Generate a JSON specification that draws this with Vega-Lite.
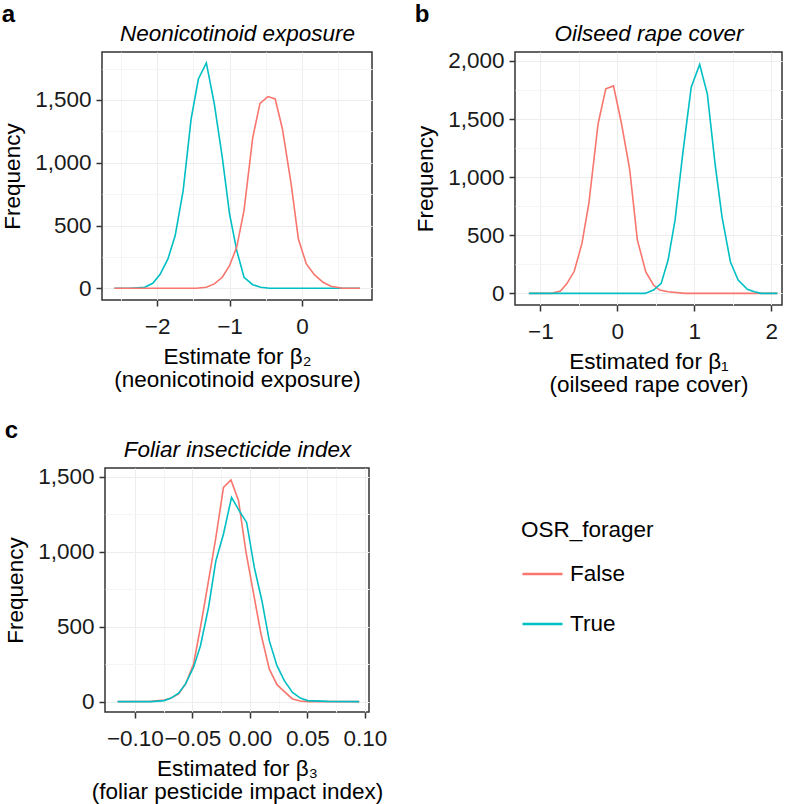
{
  "$schema": "https://vega.github.io/schema/vega-lite/v6.json",
  "background": "white",
  "padding": {"left": 0, "top": 2, "right": 0, "bottom": 0},
  "config": {
    "font": "Liberation Sans",
    "view": {"stroke": "#333333", "strokeWidth": 1.5},
    "axis": {
      "labelFont": "Liberation Sans", "labelFontSize": 22.5, "labelColor": "#1a1a1a",
      "titleFont": "Liberation Sans", "titleFontSize": 22.5, "titleFontWeight": "normal", "titleColor": "#000000",
      "tickColor": "#333333", "tickWidth": 1.5, "tickSize": 6, "domain": false,
      "gridColor": "#ededed", "gridWidth": 1, "labelOverlap": false, "labelFlush": false
    },
    "axisBottom": {"labelPadding": 9, "titlePadding": 8, "titleLineHeight": 23},
    "axisLeft": {"labelPadding": 5, "titlePadding": 10},
    "legend": {
      "symbolType": "stroke", "symbolSize": 1600, "symbolStrokeWidth": 2.5,
      "titleFontSize": 22.5, "titleFontWeight": "normal", "titleColor": "#000000",
      "labelFontSize": 22.5, "labelColor": "#000000", "titlePadding": 11, "rowPadding": 17,
      "labelOffset": 6, "padding": 0
    },
    "title": {"font": "Liberation Sans", "fontSize": 24, "fontWeight": "bold", "color": "#000000", "anchor": "start", "frame": "bounds", "offset": -5}
  },
  "datasets": {
    "a": [
      {"est": -2.59, "freq": 0, "forager": "True"}, {"est": -2.38, "freq": 0, "forager": "True"}, {"est": -2.17, "freq": 8, "forager": "True"},
      {"est": -2.06, "freq": 40, "forager": "True"}, {"est": -1.96, "freq": 109, "forager": "True"}, {"est": -1.85, "freq": 234, "forager": "True"},
      {"est": -1.75, "freq": 420, "forager": "True"}, {"est": -1.64, "freq": 778, "forager": "True"}, {"est": -1.53, "freq": 1349, "forager": "True"},
      {"est": -1.43, "freq": 1667, "forager": "True"}, {"est": -1.32, "freq": 1795, "forager": "True"}, {"est": -1.21, "freq": 1468, "forager": "True"},
      {"est": -1.10, "freq": 1043, "forager": "True"}, {"est": -1.00, "freq": 592, "forager": "True"}, {"est": -0.90, "freq": 300, "forager": "True"},
      {"est": -0.80, "freq": 88, "forager": "True"}, {"est": -0.68, "freq": 29, "forager": "True"}, {"est": -0.57, "freq": 8, "forager": "True"},
      {"est": -0.45, "freq": 0, "forager": "True"}, {"est": 0.80, "freq": 0, "forager": "True"},
      {"est": -2.59, "freq": 0, "forager": "False"}, {"est": -1.46, "freq": 0, "forager": "False"}, {"est": -1.32, "freq": 8, "forager": "False"},
      {"est": -1.21, "freq": 35, "forager": "False"}, {"est": -1.10, "freq": 88, "forager": "False"}, {"est": -1.00, "freq": 180, "forager": "False"},
      {"est": -0.90, "freq": 330, "forager": "False"}, {"est": -0.80, "freq": 620, "forager": "False"}, {"est": -0.68, "freq": 1200, "forager": "False"},
      {"est": -0.58, "freq": 1473, "forager": "False"}, {"est": -0.47, "freq": 1527, "forager": "False"}, {"est": -0.37, "freq": 1508, "forager": "False"},
      {"est": -0.27, "freq": 1269, "forager": "False"}, {"est": -0.15, "freq": 831, "forager": "False"}, {"est": -0.05, "freq": 393, "forager": "False"},
      {"est": 0.06, "freq": 194, "forager": "False"}, {"est": 0.17, "freq": 109, "forager": "False"}, {"est": 0.29, "freq": 48, "forager": "False"},
      {"est": 0.40, "freq": 16, "forager": "False"}, {"est": 0.56, "freq": 0, "forager": "False"}, {"est": 0.80, "freq": 0, "forager": "False"}
    ],
    "b": [
      {"est": -1.15, "freq": 0, "forager": "False"}, {"est": -0.85, "freq": 0, "forager": "False"}, {"est": -0.74, "freq": 20, "forager": "False"},
      {"est": -0.66, "freq": 80, "forager": "False"}, {"est": -0.56, "freq": 190, "forager": "False"}, {"est": -0.46, "freq": 430, "forager": "False"},
      {"est": -0.37, "freq": 775, "forager": "False"}, {"est": -0.25, "freq": 1460, "forager": "False"}, {"est": -0.15, "freq": 1760, "forager": "False"},
      {"est": -0.05, "freq": 1785, "forager": "False"}, {"est": 0.05, "freq": 1475, "forager": "False"}, {"est": 0.16, "freq": 1070, "forager": "False"},
      {"est": 0.26, "freq": 460, "forager": "False"}, {"est": 0.37, "freq": 185, "forager": "False"}, {"est": 0.47, "freq": 72, "forager": "False"},
      {"est": 0.55, "freq": 29, "forager": "False"}, {"est": 0.66, "freq": 14, "forager": "False"}, {"est": 0.88, "freq": 0, "forager": "False"},
      {"est": 2.08, "freq": 0, "forager": "False"},
      {"est": -1.15, "freq": 0, "forager": "True"}, {"est": 0.36, "freq": 0, "forager": "True"}, {"est": 0.47, "freq": 29, "forager": "True"},
      {"est": 0.57, "freq": 86, "forager": "True"}, {"est": 0.66, "freq": 287, "forager": "True"}, {"est": 0.75, "freq": 630, "forager": "True"},
      {"est": 0.85, "freq": 1200, "forager": "True"}, {"est": 0.96, "freq": 1775, "forager": "True"}, {"est": 1.07, "freq": 1970, "forager": "True"},
      {"est": 1.17, "freq": 1715, "forager": "True"}, {"est": 1.27, "freq": 1115, "forager": "True"}, {"est": 1.36, "freq": 660, "forager": "True"},
      {"est": 1.47, "freq": 270, "forager": "True"}, {"est": 1.57, "freq": 115, "forager": "True"}, {"est": 1.69, "freq": 35, "forager": "True"},
      {"est": 1.78, "freq": 14, "forager": "True"}, {"est": 1.87, "freq": 0, "forager": "True"}, {"est": 2.08, "freq": 0, "forager": "True"}
    ],
    "c": [
      {"est": -0.115, "freq": 0, "forager": "False"}, {"est": -0.086, "freq": 2, "forager": "False"}, {"est": -0.0745, "freq": 11, "forager": "False"},
      {"est": -0.069, "freq": 22, "forager": "False"}, {"est": -0.062, "freq": 51, "forager": "False"}, {"est": -0.056, "freq": 118, "forager": "False"},
      {"est": -0.049, "freq": 251, "forager": "False"}, {"est": -0.043, "freq": 496, "forager": "False"}, {"est": -0.037, "freq": 762, "forager": "False"},
      {"est": -0.0296, "freq": 1095, "forager": "False"}, {"est": -0.023, "freq": 1429, "forager": "False"}, {"est": -0.0165, "freq": 1478, "forager": "False"},
      {"est": -0.0099, "freq": 1340, "forager": "False"}, {"est": -0.0035, "freq": 1000, "forager": "False"}, {"est": 0.0032, "freq": 718, "forager": "False"},
      {"est": 0.0096, "freq": 451, "forager": "False"}, {"est": 0.0168, "freq": 218, "forager": "False"}, {"est": 0.0235, "freq": 113, "forager": "False"},
      {"est": 0.0299, "freq": 67, "forager": "False"}, {"est": 0.037, "freq": 18, "forager": "False"}, {"est": 0.0438, "freq": 4, "forager": "False"},
      {"est": 0.0501, "freq": 0, "forager": "False"}, {"est": 0.095, "freq": 0, "forager": "False"},
      {"est": -0.115, "freq": 0, "forager": "True"}, {"est": -0.086, "freq": 0, "forager": "True"}, {"est": -0.0745, "freq": 7, "forager": "True"},
      {"est": -0.069, "freq": 22, "forager": "True"}, {"est": -0.062, "freq": 56, "forager": "True"}, {"est": -0.056, "freq": 118, "forager": "True"},
      {"est": -0.049, "freq": 229, "forager": "True"}, {"est": -0.043, "freq": 373, "forager": "True"}, {"est": -0.036, "freq": 629, "forager": "True"},
      {"est": -0.0296, "freq": 940, "forager": "True"}, {"est": -0.023, "freq": 1118, "forager": "True"}, {"est": -0.016, "freq": 1362, "forager": "True"},
      {"est": -0.0093, "freq": 1273, "forager": "True"}, {"est": -0.0029, "freq": 1195, "forager": "True"}, {"est": 0.0038, "freq": 895, "forager": "True"},
      {"est": 0.0104, "freq": 673, "forager": "True"}, {"est": 0.0168, "freq": 407, "forager": "True"}, {"est": 0.0235, "freq": 240, "forager": "True"},
      {"est": 0.0299, "freq": 140, "forager": "True"}, {"est": 0.037, "freq": 62, "forager": "True"}, {"est": 0.0438, "freq": 24, "forager": "True"},
      {"est": 0.0501, "freq": 7, "forager": "True"}, {"est": 0.0675, "freq": 2, "forager": "True"}, {"est": 0.095, "freq": 0, "forager": "True"}
    ]
  },
  "columns": 2,
  "spacing": {"column": 143, "row": 163},
  "bounds": "flush",
  "center": {"column": true, "row": false},
  "concat": [
    {
      "title": {"text": "a"},
      "width": 270, "height": 248,
      "data": {"name": "a"},
      "resolve": {"axis": {"x": "independent", "y": "independent"}},
      "layer": [
        {
          "mark": {"type": "line", "strokeWidth": 1.6},
          "encoding": {
            "x": {"field": "est", "type": "quantitative", "scale": {"domain": [-2.76, 0.966], "nice": false, "zero": false},
                  "axis": {"orient": "bottom", "values": [-2, -1, 0], "title": ["Estimate for β₂", "(neonicotinoid exposure)"]}},
            "y": {"field": "freq", "type": "quantitative", "scale": {"domain": [-93, 1882], "nice": false, "zero": false},
                  "axis": {"orient": "left", "values": [0, 500, 1000, 1500], "title": "Frequency"}},
            "color": {"field": "forager", "type": "nominal", "scale": {"domain": ["False", "True"], "range": ["#F8766D", "#00BFC4"]}}
          }
        },
        {
          "mark": {"type": "point", "opacity": 0},
          "encoding": {
            "x": {"field": "est", "type": "quantitative",
                  "axis": {"orient": "top", "values": [-2.5, -1.5, -0.5, 0.5], "labels": false, "ticks": false, "grid": true, "gridColor": "#f5f5f5",
                           "title": "Neonicotinoid exposure", "titleFontStyle": "italic", "titlePadding": 7}},
            "y": {"field": "freq", "type": "quantitative",
                  "axis": {"orient": "right", "values": [250, 750, 1250, 1750], "labels": false, "ticks": false, "grid": true, "gridColor": "#f5f5f5", "title": null}}
          }
        }
      ]
    },
    {
      "title": {"text": "b"},
      "width": 267, "height": 253,
      "data": {"name": "b"},
      "resolve": {"axis": {"x": "independent", "y": "independent"}},
      "layer": [
        {
          "mark": {"type": "line", "strokeWidth": 1.6},
          "encoding": {
            "x": {"field": "est", "type": "quantitative", "scale": {"domain": [-1.33, 2.14], "nice": false, "zero": false},
                  "axis": {"orient": "bottom", "values": [-1, 0, 1, 2], "title": ["Estimated for β₁", "(oilseed rape cover)"]}},
            "y": {"field": "freq", "type": "quantitative", "scale": {"domain": [-100, 2077], "nice": false, "zero": false},
                  "axis": {"orient": "left", "values": [0, 500, 1000, 1500, 2000], "title": "Frequency"}},
            "color": {"field": "forager", "type": "nominal", "scale": {"domain": ["False", "True"], "range": ["#F8766D", "#00BFC4"]}}
          }
        },
        {
          "mark": {"type": "point", "opacity": 0},
          "encoding": {
            "x": {"field": "est", "type": "quantitative",
                  "axis": {"orient": "top", "values": [-0.5, 0.5, 1.5], "labels": false, "ticks": false, "grid": true, "gridColor": "#f5f5f5",
                           "title": "Oilseed rape cover", "titleFontStyle": "italic", "titlePadding": 7}},
            "y": {"field": "freq", "type": "quantitative",
                  "axis": {"orient": "right", "values": [250, 750, 1250, 1750], "labels": false, "ticks": false, "grid": true, "gridColor": "#f5f5f5", "title": null}}
          }
        }
      ]
    },
    {
      "title": {"text": "c"},
      "width": 264, "height": 244,
      "data": {"name": "c"},
      "resolve": {"axis": {"x": "independent", "y": "independent"}},
      "layer": [
        {
          "mark": {"type": "line", "strokeWidth": 1.6},
          "encoding": {
            "x": {"field": "est", "type": "quantitative", "scale": {"domain": [-0.126, 0.1035], "nice": false, "zero": false},
                  "axis": {"orient": "bottom", "values": [-0.1, -0.05, 0, 0.05, 0.1], "format": ".2f", "title": ["Estimated for β₃", "(foliar pesticide impact index)"]}},
            "y": {"field": "freq", "type": "quantitative", "scale": {"domain": [-69, 1558], "nice": false, "zero": false},
                  "axis": {"orient": "left", "values": [0, 500, 1000, 1500], "title": "Frequency"}},
            "color": {"field": "forager", "type": "nominal", "scale": {"domain": ["False", "True"], "range": ["#F8766D", "#00BFC4"]},
                      "legend": {"title": "OSR_forager", "orient": "none", "legendX": 419, "legendY": 467}}
          }
        },
        {
          "mark": {"type": "point", "opacity": 0},
          "encoding": {
            "x": {"field": "est", "type": "quantitative",
                  "axis": {"orient": "top", "values": [-0.075, -0.025, 0.025, 0.075], "labels": false, "ticks": false, "grid": true, "gridColor": "#f5f5f5",
                           "title": "Foliar insecticide index", "titleFontStyle": "italic", "titlePadding": 7}},
            "y": {"field": "freq", "type": "quantitative",
                  "axis": {"orient": "right", "values": [250, 750, 1250], "labels": false, "ticks": false, "grid": true, "gridColor": "#f5f5f5", "title": null}}
          }
        }
      ]
    }
  ]
}
